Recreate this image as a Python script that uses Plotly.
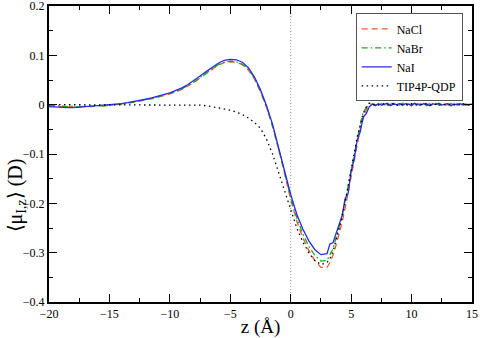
import plotly.graph_objects as go

# shared z grid (Å)
z = [-20 + 0.5 * i for i in range(47)] + [3.25 + 0.25 * i for i in range(48)]

plateau_nai = [0.002, -0.001, 0.001, 0.003, -0.002, 0.001, 0.000, 0.002, -0.001, 0.002, 0.001, -0.002,
               0.003, 0.000, -0.001, 0.002, 0.001, -0.002, 0.002, 0.000, 0.003, -0.001, 0.001, 0.002,
               -0.002, 0.001, 0.000, 0.002, -0.001, 0.001, 0.000, 0.001]
plateau_nacl = [-0.001, 0.002, 0.000, -0.002, 0.001, 0.003, -0.001, 0.000, 0.002, -0.002, 0.001, 0.000,
                -0.001, 0.002, 0.001, -0.001, 0.000, 0.002, -0.002, 0.001, 0.000, 0.002, -0.001, 0.000,
                0.001, -0.002, 0.002, 0.000, 0.001, -0.001, 0.000, 0.001]
plateau_nabr = [0.001, -0.002, 0.002, 0.000, -0.001, 0.002, 0.001, -0.001, 0.003, 0.000, -0.002, 0.001,
                0.002, -0.001, 0.000, 0.002, -0.002, 0.001, 0.000, 0.003, -0.001, 0.001, 0.000, -0.002,
                0.002, 0.001, -0.001, 0.000, 0.002, -0.001, 0.001, 0.000]
plateau_qdp = [-0.001, 0.001, 0.002, -0.001, 0.000, 0.002, -0.002, 0.001, 0.000, 0.001, -0.001, 0.002,
               0.000, -0.001, 0.001, 0.000, 0.002, -0.001, 0.000, 0.001, -0.002, 0.001, 0.000, 0.002,
               -0.001, 0.000, 0.001, -0.001, 0.002, 0.000, -0.001, 0.001]

nacl = [-0.002, -0.003, -0.004, -0.003, -0.005, -0.004, -0.004, -0.003, -0.003, -0.002, -0.001, 0.000,
        0.001, 0.003, 0.005, 0.007, 0.010, 0.012, 0.015, 0.018, 0.022, 0.026, 0.031, 0.038, 0.045, 0.054,
        0.063, 0.072, 0.080, 0.085, 0.087, 0.086, 0.081, 0.070, 0.052, 0.026, -0.006, -0.045, -0.090,
        -0.141, -0.192, -0.236, -0.270, -0.296, -0.316, -0.330, -0.330,
        -0.320, -0.305, -0.285, -0.262, -0.238, -0.210, -0.178, -0.145, -0.112, -0.082, -0.050, -0.028,
        -0.010, -0.002, 0.002, 0.000] + plateau_nacl

nabr = [-0.001, -0.003, -0.002, -0.004, -0.003, -0.005, -0.003, -0.004, -0.002, -0.003, -0.001, 0.000,
        0.001, 0.004, 0.005, 0.008, 0.010, 0.013, 0.016, 0.019, 0.023, 0.027, 0.032, 0.039, 0.046, 0.055,
        0.064, 0.073, 0.081, 0.086, 0.088, 0.087, 0.082, 0.072, 0.054, 0.028, -0.004, -0.043, -0.088,
        -0.138, -0.188, -0.229, -0.262, -0.287, -0.306, -0.317, -0.316,
        -0.305, -0.292, -0.270, -0.250, -0.226, -0.196, -0.165, -0.135, -0.100, -0.068, -0.040, -0.015,
        -0.006, 0.003, 0.001, -0.001] + plateau_nabr

nai = [-0.004, -0.005, -0.005, -0.006, -0.006, -0.005, -0.005, -0.004, -0.003, -0.002, -0.001, 0.000,
       0.002, 0.004, 0.006, 0.008, 0.011, 0.014, 0.017, 0.020, 0.024, 0.029, 0.034, 0.041, 0.049, 0.058,
       0.067, 0.076, 0.084, 0.090, 0.092, 0.091, 0.086, 0.075, 0.056, 0.030, -0.002, -0.040, -0.085,
       -0.135, -0.182, -0.222, -0.252, -0.276, -0.294, -0.304, -0.302,
       -0.282, -0.280, -0.262, -0.245, -0.225, -0.190, -0.180, -0.135, -0.110, -0.072, -0.055, -0.025,
       -0.018, -0.004, 0.001, -0.002] + plateau_nai

qdp = [0.000] * 25 + [-0.001, -0.002, -0.004, -0.006, -0.008, -0.011, -0.015, -0.020, -0.027, -0.036,
       -0.048, -0.070, -0.100, -0.137, -0.177, -0.215, -0.250, -0.278, -0.300, -0.316, -0.324, -0.320,
       -0.312, -0.298, -0.275, -0.252, -0.228, -0.198, -0.165, -0.130, -0.098, -0.065, -0.042, -0.018,
       -0.005, 0.003, 0.000, 0.001] + plateau_qdp

series = [
    ("NaCl", nacl, "#f0582a", "6px,4px"),
    ("NaBr", nabr, "#10b010", "6px,3px,1.5px,3px"),
    ("NaI", nai, "#2a2aee", "solid"),
    ("TIP4P-QDP", qdp, "#000000", "1.5px,3.5px"),
]

fig = go.Figure()
for name, ys, col, dash in series:
    fig.add_trace(go.Scatter(x=z, y=ys, name=name, mode="lines",
                             line=dict(color=col, width=1.3, dash=dash)))

fig.add_shape(type="line", x0=0, x1=0, y0=-0.4, y1=0.2, xref="x", yref="y",
              line=dict(color="#999999", width=1, dash="1px,2px"), layer="below")

font = "Liberation Serif"
axis_common = dict(showline=True, linecolor="black", linewidth=2, mirror="allticks",
                   ticks="inside", ticklen=8, tickwidth=1, tickcolor="black",
                   showgrid=False, zeroline=False, automargin=False,
                   ticklabeloverflow="allow",
                   tickfont=dict(family=font, size=12, color="black"))

fig.update_xaxes(range=[-20, 15], dtick=5, tick0=-20,
                 minor=dict(ticks="inside", ticklen=4, dtick=2.5, tickcolor="black"),
                 title=dict(text="z (Å)", font=dict(family=font, size=19, color="black"), standoff=6),
                 **axis_common)
fig.update_yaxes(range=[-0.4, 0.2], dtick=0.1, tick0=-0.4,
                 minor=dict(ticks="inside", ticklen=4, dtick=0.05, tickcolor="black"),
                 tickformat="~g",
                 **axis_common)

# y-axis title placed as a rotated annotation
fig.add_annotation(text="⟨μ<sub>I,z</sub>⟩ (D)", xref="paper", yref="paper",
                   x=-0.078, y=0.36, xanchor="center", yanchor="middle", textangle=-90,
                   showarrow=False, font=dict(family=font, size=20, color="black"))

fig.update_layout(
    width=480, height=338,
    margin=dict(l=49, r=8, t=6, b=36),
    paper_bgcolor="white", plot_bgcolor="white",
    showlegend=True,
    legend=dict(x=0.725, y=0.975, xanchor="left", yanchor="top",
                bordercolor="#555555", borderwidth=1, bgcolor="white",
                font=dict(family=font, size=12, color="black"),
                tracegroupgap=0, itemwidth=30),
    font=dict(family=font),
)

fig.write_html("out.html", config={"displayModeBar": False},
               post_script="document.body.style.margin='0';document.body.style.padding='0';")
